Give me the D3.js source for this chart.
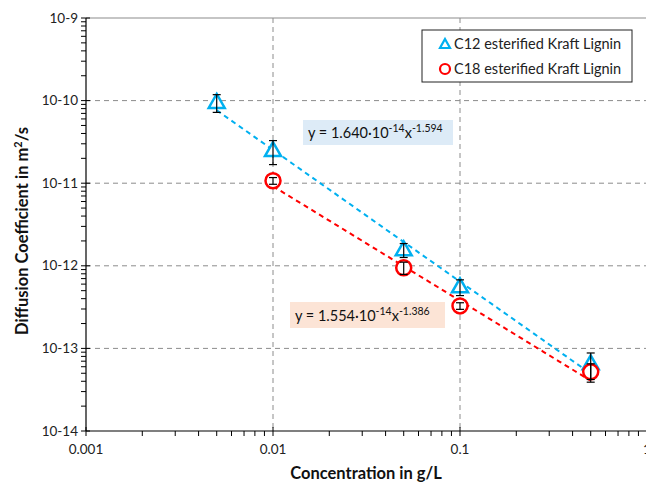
<!DOCTYPE html>
<html>
<head>
<meta charset="utf-8">
<script src="https://cdn.jsdelivr.net/npm/d3@7"></script>
<style>
body{margin:0;background:#fff;}
text{font-family:Lato,"Open Sans",sans-serif;}
</style>
</head>
<body>
<svg id="chart" width="646" height="484"></svg>
<script>
// values
var concC12=[0.005,0.01,0.05,0.1,0.5],
	diffC12=[9.5e-11,2.48e-11,1.56e-12,5.56e-13,6.5e-14],
	errC12=[2.3e-11,8e-12,3e-13,1.2e-13,2.3e-14];
var concC18=[0.01,0.05,0.1,0.5],
	diffC18=[1.07e-11,9.46e-13,3.27e-13,5.2e-14],
	errC18=[1e-12,1.6e-13,3e-14,1.3e-14];
// power trendlines as printed on the chart: [coef, exponent]
var fitC12=[1.640e-14,-1.594],
	fitC18=[1.554e-14,-1.386];
var xTicks=[0.001,0.01,0.1,1],
	xTickLabels=["0.001","0.01","0.1","1"];
var yTicks=[1e-14,1e-13,1e-12,1e-11,1e-10,1e-9],
	yTickLabels=["10-14","10-13","10-12","10-11","10-10","10-9"];
var legendNames=["C12 esterified Kraft Lignin","C18 esterified Kraft Lignin"];

var BLUE="#00B0F0", RED="#FF0000", GRID="#8c8c8c";

var svg=d3.select("#chart");
var x=d3.scaleLog().domain([0.001,1]).range([86,647]);
var y=d3.scaleLog().domain([1e-14,1e-9]).range([431,18]);

// grid
var grid=svg.append("g");
grid.selectAll(".hg").data(yTicks.slice(1,5)).enter().append("line")
	.attr("x1",x(0.001)).attr("x2",646)
	.attr("y1",function(d){return y(d);}).attr("y2",function(d){return y(d);})
	.attr("stroke",GRID).attr("stroke-width",1).attr("stroke-dasharray","5,4");
grid.selectAll(".vg").data(xTicks.slice(1)).enter().append("line")
	.attr("y1",y(1e-9)).attr("y2",y(1e-14))
	.attr("x1",function(d){return x(d);}).attr("x2",function(d){return x(d);})
	.attr("stroke",GRID).attr("stroke-width",1).attr("stroke-dasharray","5,4");
grid.append("line").attr("x1",x(0.001)).attr("x2",646).attr("y1",y(1e-9)).attr("y2",y(1e-9))
	.attr("stroke",GRID).attr("stroke-width",1.2);

// trendlines
function trend(fit,x0,x1,color){
	var pts=d3.range(0,21).map(function(i){
		var c=Math.pow(10,Math.log10(x0)+(Math.log10(x1)-Math.log10(x0))*i/20);
		return [x(c),y(fit[0]*Math.pow(c,fit[1]))];
	});
	svg.append("path").attr("d",d3.line()(pts)).attr("fill","none")
		.attr("stroke",color).attr("stroke-width",2).attr("stroke-dasharray","5,4");
}
trend(fitC12,concC12[0],concC12[4],BLUE);
trend(fitC18,concC18[0],concC18[3],RED);

// markers
var tri="M0,-8.5L8,5.5L-8,5.5Z";
svg.selectAll(".c12").data(concC12).enter().append("path")
	.attr("d",tri)
	.attr("transform",function(d,i){return "translate("+x(d)+","+y(diffC12[i])+")";})
	.attr("fill","#fff").attr("stroke",BLUE).attr("stroke-width",2.5);
svg.selectAll(".c18").data(concC18).enter().append("circle")
	.attr("cx",function(d){return x(d);})
	.attr("cy",function(d,i){return y(diffC18[i]);})
	.attr("r",7.5).attr("fill","#fff").attr("stroke",RED).attr("stroke-width",2.5);

// error bars
function errBars(cs,vs,es){
	var g=svg.append("g").attr("stroke","#000").attr("stroke-width",1.2);
	cs.forEach(function(c,i){
		var cx=x(c),t=y(vs[i]+es[i]),b=y(vs[i]-es[i]);
		g.append("line").attr("x1",cx).attr("x2",cx).attr("y1",t).attr("y2",b);
		g.append("line").attr("x1",cx-4).attr("x2",cx+4).attr("y1",t).attr("y2",t);
		g.append("line").attr("x1",cx-4).attr("x2",cx+4).attr("y1",b).attr("y2",b);
	});
}
errBars(concC12,diffC12,errC12);
errBars(concC18,diffC18,errC18);

// axes
var ax=svg.append("g").attr("stroke","#000");
ax.append("line").attr("x1",x(0.001)).attr("x2",646).attr("y1",y(1e-14)).attr("y2",y(1e-14)).attr("stroke-width",1.2);
ax.append("line").attr("x1",x(0.001)).attr("x2",x(0.001)).attr("y1",y(1e-9)).attr("y2",y(1e-14)).attr("stroke-width",1.2);
var xMinor=x.ticks().filter(function(d){return xTicks.indexOf(d)<0;});
ax.selectAll(".xm").data(xMinor).enter().append("line")
	.attr("x1",function(d){return x(d);}).attr("x2",function(d){return x(d);})
	.attr("y1",y(1e-14)).attr("y2",y(1e-14)+5);
ax.selectAll(".xM").data(xTicks).enter().append("line")
	.attr("x1",function(d){return x(d);}).attr("x2",function(d){return x(d);})
	.attr("y1",y(1e-14)-4).attr("y2",y(1e-14)+5);
var yMinor=y.ticks().filter(function(d){return yTicks.indexOf(d)<0;});
ax.selectAll(".ym").data(yMinor).enter().append("line")
	.attr("y1",function(d){return y(d);}).attr("y2",function(d){return y(d);})
	.attr("x1",x(0.001)-5).attr("x2",x(0.001));
ax.selectAll(".yM").data(yTicks).enter().append("line")
	.attr("y1",function(d){return y(d);}).attr("y2",function(d){return y(d);})
	.attr("x1",x(0.001)-5).attr("x2",x(0.001)+4);

svg.selectAll(".xl").data(xTicks).enter().append("text")
	.attr("x",function(d){return x(d);}).attr("y",y(1e-14)+23)
	.attr("text-anchor","middle").attr("font-size",13.5).attr("fill","#222")
	.text(function(d,i){return xTickLabels[i];});
svg.selectAll(".yl").data(yTicks).enter().append("text")
	.attr("x",x(0.001)-8).attr("y",function(d){return y(d)+4.5;})
	.attr("text-anchor","end").attr("font-size",13.5).attr("fill","#222")
	.text(function(d,i){return yTickLabels[i];});

// axis titles
svg.append("text").attr("x",366).attr("y",479).attr("text-anchor","middle")
	.attr("font-size",16.5).attr("font-weight","bold").attr("fill","#111")
	.text("Concentration in g/L");
var yt=svg.append("text").attr("transform","translate(28,231) rotate(-90)")
	.attr("text-anchor","middle").attr("font-size",16.5).attr("font-weight","bold").attr("fill","#111");
yt.append("tspan").text("Diffusion Coefficient in m");
yt.append("tspan").attr("font-size",11).attr("dy",-6).text("2");
yt.append("tspan").attr("dy",6).text("/s");

// equation labels
function eqLabel(bx,by,bw,bh,fill,fit){
	svg.append("rect").attr("x",bx).attr("y",by).attr("width",bw).attr("height",bh).attr("fill",fill);
	var t=svg.append("text").attr("x",bx+5).attr("y",by+bh-7).attr("font-size",14.5).attr("fill","#111");
	t.append("tspan").text("y = "+fit[0].toExponential(3).split("e")[0]+"\u00b710");
	t.append("tspan").attr("font-size",10.5).attr("dy",-6).text(String(Math.round(Math.log10(fit[0]))));
	t.append("tspan").attr("dy",6).text("x");
	t.append("tspan").attr("font-size",10.5).attr("dy",-6).text(fit[1].toFixed(3));
}
eqLabel(303,120,150,25,"#DDEBF7",fitC12);
eqLabel(290,302,155,26,"#FCE4D6",fitC18);

// legend
var lg=svg.append("g");
lg.append("rect").attr("x",422).attr("y",30).attr("width",210).attr("height",52)
	.attr("fill","#fff").attr("stroke","#222").attr("stroke-width",1);
lg.append("path").attr("d","M0,-5L5,4L-5,4Z").attr("transform","translate(445,44)")
	.attr("fill","#fff").attr("stroke",BLUE).attr("stroke-width",2.2);
lg.append("circle").attr("cx",445).attr("cy",69).attr("r",5).attr("fill","#fff")
	.attr("stroke",RED).attr("stroke-width",2.2);
lg.selectAll(".lt").data(legendNames).enter().append("text")
	.attr("x",454).attr("y",function(d,i){return 49+i*25;})
	.attr("font-size",14.5).attr("fill","#222").text(function(d){return d;});
</script>
</body>
</html>
